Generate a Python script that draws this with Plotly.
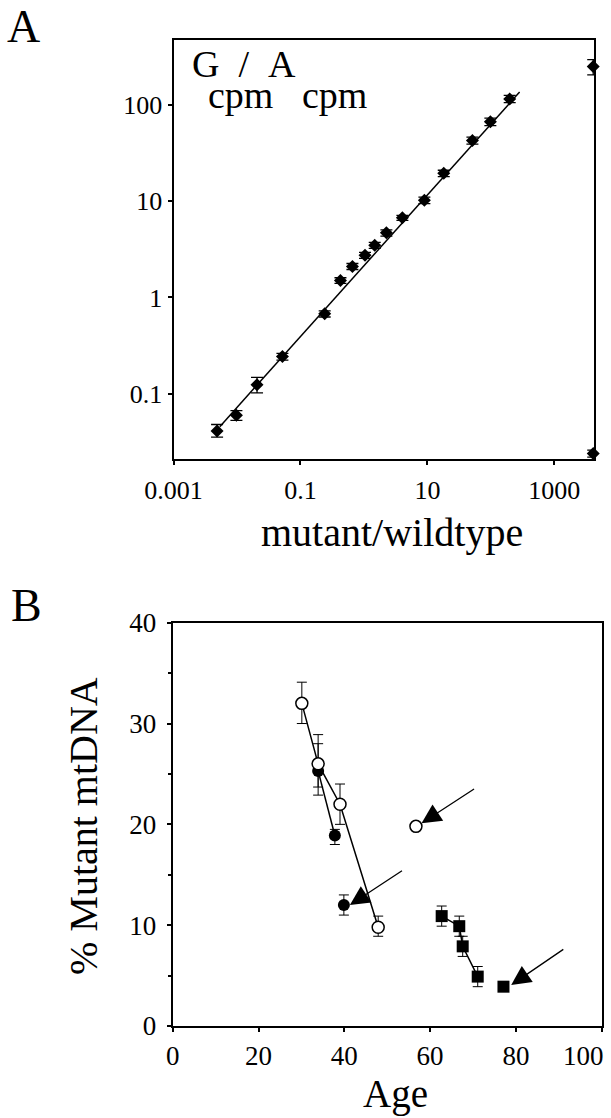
import plotly.graph_objects as go

# panel A: G_cpm/A_cpm vs mutant/wildtype (log-log)
ratio = [0.00486, 0.0098, 0.0207, 0.052, 0.241, 0.427, 0.659, 1.04, 1.48, 2.26,
         4.04, 8.97, 18.1, 51.2, 98.2, 198]
g_over_a = [0.041, 0.060, 0.124, 0.243, 0.676, 1.50, 2.10, 2.74, 3.48, 4.68,
            6.70, 10.2, 19.4, 42.5, 66.6, 115]
ga_err_up = [0.007, 0.007, 0.024, 0.02, 0.05, 0.1, 0.15, 0.2, 0.25, 0.35,
             0.4, 0.8, 1.5, 3.5, 6, 10]
ga_err_dn = [0.0055, 0.007, 0.022, 0.02, 0.05, 0.1, 0.15, 0.2, 0.25, 0.35,
             0.4, 0.8, 1.5, 3.5, 6, 10]
edge_ratio = [4100, 4100]
edge_ga = [249, 0.024]
edge_err = [45, 0.002]
fit_ratio = [0.00536, 284]
fit_ga = [0.0456, 135.5]

# panel B: % mutant mtDNA vs age
open_age = [30.1, 33.9, 39.0, 47.9]
open_pct = [32, 26, 22, 9.8]
open_up = [2.1, 2.9, 2.0, 1.1]
open_dn = [2.0, 2.3, 2.0, 0.9]
fill_age = [33.9, 37.8]
fill_pct = [25.3, 18.9]
fill_up = [2.7, 0.6]
fill_dn = [2.4, 0.9]
lone_fill_age = [39.9]
lone_fill_pct = [12]
lone_fill_err = [1]
lone_open_age = [56.7]
lone_open_pct = [19.8]
sq_age = [62.7, 66.8, 67.6, 71.1]
sq_pct = [10.9, 9.9, 7.9, 4.9]
sq_err = [1, 1, 1, 1]
lone_sq_age = [77.1]
lone_sq_pct = [3.9]
arrow_from_x = [70.6, 53.8, 91.4]
arrow_from_y = [23.6, 15.5, 7.7]
arrow_to_x = [58.0, 41.3, 78.9]
arrow_to_y = [20.1, 12.0, 4.07]

age_ticks = [0, 20, 40, 60, 80, 100]
pct_ticks = [0, 10, 20, 30, 40]

W, H = 611, 1118
FONT = "Liberation Serif"
NB = "\u00a0"

def fx(px):
    return px / W

def fy(py):
    return 1 - py / H

fig = go.Figure()

fig.add_trace(go.Scatter(x=fit_ratio, y=fit_ga, mode="lines",
                         line=dict(color="black", width=1.5),
                         xaxis="x", yaxis="y", showlegend=False))
fig.add_trace(go.Scatter(x=ratio, y=g_over_a, mode="markers",
                         marker=dict(symbol="diamond", size=10, color="black"),
                         error_y=dict(type="data", symmetric=False, array=ga_err_up,
                                      arrayminus=ga_err_dn, color="black",
                                      thickness=1.3, width=6),
                         xaxis="x", yaxis="y", showlegend=False))
fig.add_trace(go.Scatter(x=edge_ratio, y=edge_ga, mode="markers",
                         marker=dict(symbol="diamond", size=10, color="black"),
                         error_y=dict(type="data", array=edge_err, color="black",
                                      thickness=1.3, width=6),
                         cliponaxis=False,
                         xaxis="x", yaxis="y", showlegend=False))

eb = dict(type="data", color="black", thickness=1, width=5)

fig.add_trace(go.Scatter(x=fill_age, y=fill_pct, mode="lines+markers",
                         line=dict(color="black", width=1.5),
                         marker=dict(symbol="circle", size=12, color="black"),
                         error_y=dict(eb, symmetric=False, array=fill_up, arrayminus=fill_dn),
                         xaxis="x2", yaxis="y2", showlegend=False))
fig.add_trace(go.Scatter(x=open_age, y=open_pct, mode="lines+markers",
                         line=dict(color="black", width=1.5),
                         marker=dict(symbol="circle", size=12, color="white",
                                     line=dict(color="black", width=1.5)),
                         error_y=dict(eb, symmetric=False, array=open_up, arrayminus=open_dn),
                         xaxis="x2", yaxis="y2", showlegend=False))
fig.add_trace(go.Scatter(x=lone_fill_age, y=lone_fill_pct, mode="markers",
                         marker=dict(symbol="circle", size=12, color="black"),
                         error_y=dict(eb, array=lone_fill_err),
                         xaxis="x2", yaxis="y2", showlegend=False))
fig.add_trace(go.Scatter(x=lone_open_age, y=lone_open_pct, mode="markers",
                         marker=dict(symbol="circle", size=12, color="white",
                                     line=dict(color="black", width=1.5)),
                         xaxis="x2", yaxis="y2", showlegend=False))
fig.add_trace(go.Scatter(x=sq_age, y=sq_pct, mode="lines+markers",
                         line=dict(color="black", width=1.5),
                         marker=dict(symbol="square", size=12, color="black"),
                         error_y=dict(eb, array=sq_err),
                         xaxis="x2", yaxis="y2", showlegend=False))
fig.add_trace(go.Scatter(x=lone_sq_age, y=lone_sq_pct, mode="markers",
                         marker=dict(symbol="square", size=12, color="black"),
                         xaxis="x2", yaxis="y2", showlegend=False))

axis_common = dict(showgrid=False, zeroline=False, showline=True, linecolor="black",
                   linewidth=2, mirror=True, ticks="outside", tickcolor="black",
                   ticklen=4, tickwidth=1.5, color="black", automargin=False,
                   ticklabeloverflow="allow")

annotations = []
for x0, y0, x1, y1 in zip(arrow_from_x, arrow_from_y, arrow_to_x, arrow_to_y):
    annotations.append(dict(x=x1, y=y1, ax=x0, ay=y0, xref="x2", yref="y2",
                            axref="x2", ayref="y2", text="", showarrow=True,
                            arrowhead=2, arrowsize=3, arrowwidth=1.3,
                            arrowcolor="black"))

def label(text, x, y, size, xanchor="left", yanchor="middle", angle=0):
    annotations.append(dict(text=text, x=fx(x), y=fy(y), xref="paper", yref="paper",
                            xanchor=xanchor, yanchor=yanchor, showarrow=False,
                            textangle=angle,
                            font=dict(family=FONT, size=size, color="black")))

label("A", 5, 26, 46)
label("B", 9, 605, 46)
label("G" + NB * 2 + "/" + NB * 2 + "A", 190, 64, 38)
label("cpm" + NB * 3 + "cpm", 206, 95, 38)
label("mutant/wildtype", 392, 532, 40, xanchor="center")
label("Age", 396, 1094, 39, xanchor="center")
label("% Mutant mtDNA", 83, 826, 40, xanchor="center", angle=-90)

# last age label sits left of its tick in the original (page edge)
age_text = [str(v) for v in age_ticks]
label(age_text[-1], 606, 1056, 27, xanchor="right")
age_text[-1] = ""

fig.update_layout(
    template="none",
    width=W, height=H,
    margin=dict(l=0, r=0, t=0, b=0),
    paper_bgcolor="white", plot_bgcolor="white",
    font=dict(family=FONT, color="black"),
    xaxis=dict(axis_common, type="log", domain=[fx(173.5), fx(594)],
               range=[-3, 3.625], anchor="y",
               tickvals=[0.001, 0.1, 10, 1000], ticktext=["0.001", "0.1", "10", "1000"],
               tickfont=dict(size=26), ticklabelstandoff=3),
    yaxis=dict(axis_common, type="log", domain=[fy(459), fy(39.5)],
               range=[-1.677, 2.677], anchor="x",
               tickvals=[0.1, 1, 10, 100], ticktext=["0.1", "1", "10", "100"],
               tickfont=dict(size=26), ticklabelstandoff=0),
    xaxis2=dict(axis_common, domain=[fx(172.7), fx(601.7)], range=[0, 100],
                anchor="y2", tickvals=age_ticks, ticktext=age_text,
                tickfont=dict(size=27), ticklabelstandoff=1),
    yaxis2=dict(axis_common, domain=[fy(1026), fy(622.7)], range=[0, 40],
                anchor="x2", tickvals=pct_ticks,
                minor=dict(dtick=5, ticks="outside", ticklen=3, tickcolor="black"),
                tickfont=dict(size=27), ticklabelstandoff=5),
    annotations=annotations,
)

fig.write_html("out.html", config={"displayModeBar": False},
               post_script="document.body.style.margin='0px';")
